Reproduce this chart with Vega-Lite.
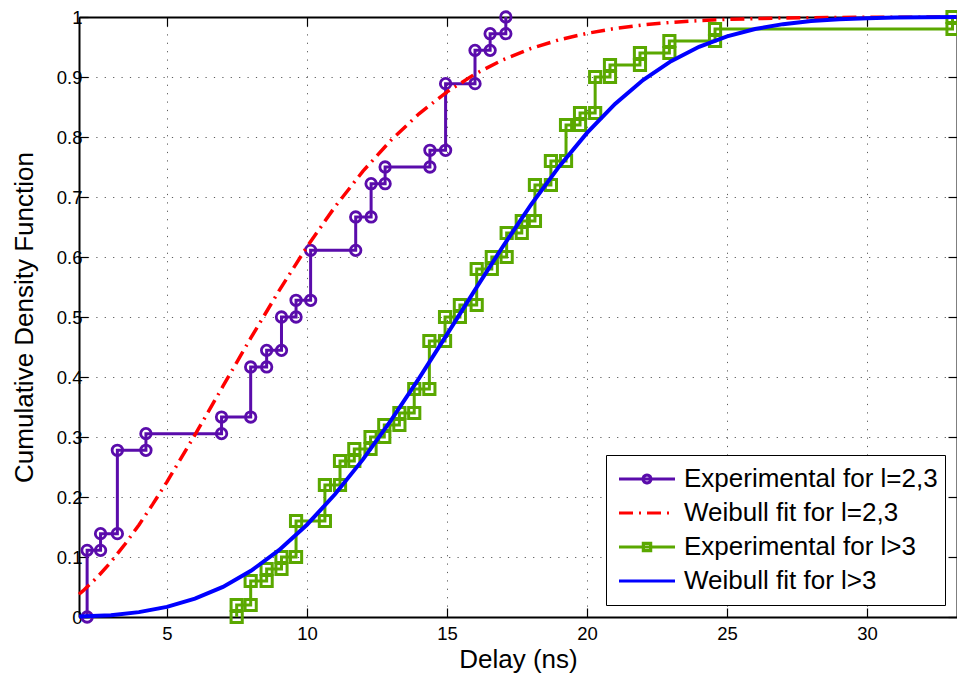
{
  "$schema": "https://vega.github.io/schema/vega-lite/v6.json",
  "width": 878,
  "height": 600,
  "autosize": {"type": "none"},
  "padding": {"left": 79, "top": 17, "right": 0, "bottom": 62},
  "background": "white",
  "config": {
    "font": "Liberation Sans",
    "view": {"stroke": null},
    "axis": {
      "domainColor": "black",
      "domainWidth": 2,
      "tickColor": "black",
      "tickWidth": 1.2,
      "tickSize": -9,
      "labelColor": "black",
      "labelFont": "Liberation Sans",
      "labelFontSize": 18.5,
      "titleFont": "Liberation Sans",
      "titleFontSize": 26,
      "titleFontWeight": "normal",
      "titleColor": "black",
      "gridColor": "#333333",
      "gridOpacity": 0.8,
      "gridWidth": 1,
      "gridDash": [1.2, 7.2]
    }
  },
  "datasets": {
    "curves": [
      {"series": "Experimental for l=2,3", "i": 0, "x": 2.15, "y": 0},
      {"series": "Experimental for l=2,3", "i": 1, "x": 2.15, "y": 0.1111},
      {"series": "Experimental for l=2,3", "i": 2, "x": 2.63, "y": 0.1111},
      {"series": "Experimental for l=2,3", "i": 3, "x": 2.63, "y": 0.1389},
      {"series": "Experimental for l=2,3", "i": 4, "x": 3.23, "y": 0.1389},
      {"series": "Experimental for l=2,3", "i": 5, "x": 3.23, "y": 0.2778},
      {"series": "Experimental for l=2,3", "i": 6, "x": 4.25, "y": 0.2778},
      {"series": "Experimental for l=2,3", "i": 7, "x": 4.25, "y": 0.3056},
      {"series": "Experimental for l=2,3", "i": 8, "x": 6.95, "y": 0.3056},
      {"series": "Experimental for l=2,3", "i": 9, "x": 6.95, "y": 0.3333},
      {"series": "Experimental for l=2,3", "i": 10, "x": 7.99, "y": 0.3333},
      {"series": "Experimental for l=2,3", "i": 11, "x": 7.99, "y": 0.4167},
      {"series": "Experimental for l=2,3", "i": 12, "x": 8.56, "y": 0.4167},
      {"series": "Experimental for l=2,3", "i": 13, "x": 8.56, "y": 0.4444},
      {"series": "Experimental for l=2,3", "i": 14, "x": 9.09, "y": 0.4444},
      {"series": "Experimental for l=2,3", "i": 15, "x": 9.09, "y": 0.5},
      {"series": "Experimental for l=2,3", "i": 16, "x": 9.61, "y": 0.5},
      {"series": "Experimental for l=2,3", "i": 17, "x": 9.61, "y": 0.5278},
      {"series": "Experimental for l=2,3", "i": 18, "x": 10.13, "y": 0.5278},
      {"series": "Experimental for l=2,3", "i": 19, "x": 10.13, "y": 0.6111},
      {"series": "Experimental for l=2,3", "i": 20, "x": 11.74, "y": 0.6111},
      {"series": "Experimental for l=2,3", "i": 21, "x": 11.74, "y": 0.6667},
      {"series": "Experimental for l=2,3", "i": 22, "x": 12.29, "y": 0.6667},
      {"series": "Experimental for l=2,3", "i": 23, "x": 12.29, "y": 0.7222},
      {"series": "Experimental for l=2,3", "i": 24, "x": 12.79, "y": 0.7222},
      {"series": "Experimental for l=2,3", "i": 25, "x": 12.79, "y": 0.75},
      {"series": "Experimental for l=2,3", "i": 26, "x": 14.39, "y": 0.75},
      {"series": "Experimental for l=2,3", "i": 27, "x": 14.39, "y": 0.7778},
      {"series": "Experimental for l=2,3", "i": 28, "x": 14.95, "y": 0.7778},
      {"series": "Experimental for l=2,3", "i": 29, "x": 14.95, "y": 0.8889},
      {"series": "Experimental for l=2,3", "i": 30, "x": 16.0, "y": 0.8889},
      {"series": "Experimental for l=2,3", "i": 31, "x": 16.0, "y": 0.9444},
      {"series": "Experimental for l=2,3", "i": 32, "x": 16.54, "y": 0.9444},
      {"series": "Experimental for l=2,3", "i": 33, "x": 16.54, "y": 0.9722},
      {"series": "Experimental for l=2,3", "i": 34, "x": 17.1, "y": 0.9722},
      {"series": "Experimental for l=2,3", "i": 35, "x": 17.1, "y": 1.0},

      {"series": "Weibull fit for l=2,3", "i": 0, "x": 1.86, "y": 0.0379},
      {"series": "Weibull fit for l=2,3", "i": 1, "x": 2.0, "y": 0.0434},
      {"series": "Weibull fit for l=2,3", "i": 2, "x": 2.5, "y": 0.0657},
      {"series": "Weibull fit for l=2,3", "i": 3, "x": 3.0, "y": 0.0917},
      {"series": "Weibull fit for l=2,3", "i": 4, "x": 3.5, "y": 0.1212},
      {"series": "Weibull fit for l=2,3", "i": 5, "x": 4.0, "y": 0.1535},
      {"series": "Weibull fit for l=2,3", "i": 6, "x": 4.5, "y": 0.1885},
      {"series": "Weibull fit for l=2,3", "i": 7, "x": 5.0, "y": 0.2253},
      {"series": "Weibull fit for l=2,3", "i": 8, "x": 6.0, "y": 0.3035},
      {"series": "Weibull fit for l=2,3", "i": 9, "x": 7.0, "y": 0.3846},
      {"series": "Weibull fit for l=2,3", "i": 10, "x": 8.0, "y": 0.4655},
      {"series": "Weibull fit for l=2,3", "i": 11, "x": 9.0, "y": 0.5436},
      {"series": "Weibull fit for l=2,3", "i": 12, "x": 10.0, "y": 0.6169},
      {"series": "Weibull fit for l=2,3", "i": 13, "x": 11.0, "y": 0.6837},
      {"series": "Weibull fit for l=2,3", "i": 14, "x": 12.0, "y": 0.7431},
      {"series": "Weibull fit for l=2,3", "i": 15, "x": 13.0, "y": 0.7946},
      {"series": "Weibull fit for l=2,3", "i": 16, "x": 14.0, "y": 0.8387},
      {"series": "Weibull fit for l=2,3", "i": 17, "x": 15.0, "y": 0.8753},
      {"series": "Weibull fit for l=2,3", "i": 18, "x": 16.0, "y": 0.905},
      {"series": "Weibull fit for l=2,3", "i": 19, "x": 17.0, "y": 0.9289},
      {"series": "Weibull fit for l=2,3", "i": 20, "x": 18.0, "y": 0.9476},
      {"series": "Weibull fit for l=2,3", "i": 21, "x": 19.0, "y": 0.962},
      {"series": "Weibull fit for l=2,3", "i": 22, "x": 20.0, "y": 0.9728},
      {"series": "Weibull fit for l=2,3", "i": 23, "x": 21.0, "y": 0.9809},
      {"series": "Weibull fit for l=2,3", "i": 24, "x": 22.0, "y": 0.9868},
      {"series": "Weibull fit for l=2,3", "i": 25, "x": 23.0, "y": 0.991},
      {"series": "Weibull fit for l=2,3", "i": 26, "x": 24.0, "y": 0.994},
      {"series": "Weibull fit for l=2,3", "i": 27, "x": 25.0, "y": 0.996},
      {"series": "Weibull fit for l=2,3", "i": 28, "x": 26.0, "y": 0.9974},
      {"series": "Weibull fit for l=2,3", "i": 29, "x": 27.0, "y": 0.9983},
      {"series": "Weibull fit for l=2,3", "i": 30, "x": 28.0, "y": 0.9989},
      {"series": "Weibull fit for l=2,3", "i": 31, "x": 30.0, "y": 0.9996},
      {"series": "Weibull fit for l=2,3", "i": 32, "x": 33.2, "y": 0.9999},

      {"series": "Experimental for l>3", "i": 0, "x": 7.49, "y": 0},
      {"series": "Experimental for l>3", "i": 1, "x": 7.49, "y": 0.02},
      {"series": "Experimental for l>3", "i": 2, "x": 7.99, "y": 0.02},
      {"series": "Experimental for l>3", "i": 3, "x": 7.99, "y": 0.06},
      {"series": "Experimental for l>3", "i": 4, "x": 8.56, "y": 0.06},
      {"series": "Experimental for l>3", "i": 5, "x": 8.56, "y": 0.08},
      {"series": "Experimental for l>3", "i": 6, "x": 9.09, "y": 0.08},
      {"series": "Experimental for l>3", "i": 7, "x": 9.09, "y": 0.1},
      {"series": "Experimental for l>3", "i": 8, "x": 9.61, "y": 0.1},
      {"series": "Experimental for l>3", "i": 9, "x": 9.61, "y": 0.16},
      {"series": "Experimental for l>3", "i": 10, "x": 10.64, "y": 0.16},
      {"series": "Experimental for l>3", "i": 11, "x": 10.64, "y": 0.22},
      {"series": "Experimental for l>3", "i": 12, "x": 11.18, "y": 0.22},
      {"series": "Experimental for l>3", "i": 13, "x": 11.18, "y": 0.26},
      {"series": "Experimental for l>3", "i": 14, "x": 11.69, "y": 0.26},
      {"series": "Experimental for l>3", "i": 15, "x": 11.69, "y": 0.28},
      {"series": "Experimental for l>3", "i": 16, "x": 12.27, "y": 0.28},
      {"series": "Experimental for l>3", "i": 17, "x": 12.27, "y": 0.3},
      {"series": "Experimental for l>3", "i": 18, "x": 12.76, "y": 0.3},
      {"series": "Experimental for l>3", "i": 19, "x": 12.76, "y": 0.32},
      {"series": "Experimental for l>3", "i": 20, "x": 13.3, "y": 0.32},
      {"series": "Experimental for l>3", "i": 21, "x": 13.3, "y": 0.34},
      {"series": "Experimental for l>3", "i": 22, "x": 13.83, "y": 0.34},
      {"series": "Experimental for l>3", "i": 23, "x": 13.83, "y": 0.38},
      {"series": "Experimental for l>3", "i": 24, "x": 14.37, "y": 0.38},
      {"series": "Experimental for l>3", "i": 25, "x": 14.37, "y": 0.46},
      {"series": "Experimental for l>3", "i": 26, "x": 14.93, "y": 0.46},
      {"series": "Experimental for l>3", "i": 27, "x": 14.93, "y": 0.5},
      {"series": "Experimental for l>3", "i": 28, "x": 15.46, "y": 0.5},
      {"series": "Experimental for l>3", "i": 29, "x": 15.46, "y": 0.52},
      {"series": "Experimental for l>3", "i": 30, "x": 16.06, "y": 0.52},
      {"series": "Experimental for l>3", "i": 31, "x": 16.06, "y": 0.58},
      {"series": "Experimental for l>3", "i": 32, "x": 16.6, "y": 0.58},
      {"series": "Experimental for l>3", "i": 33, "x": 16.6, "y": 0.6},
      {"series": "Experimental for l>3", "i": 34, "x": 17.13, "y": 0.6},
      {"series": "Experimental for l>3", "i": 35, "x": 17.13, "y": 0.64},
      {"series": "Experimental for l>3", "i": 36, "x": 17.67, "y": 0.64},
      {"series": "Experimental for l>3", "i": 37, "x": 17.67, "y": 0.66},
      {"series": "Experimental for l>3", "i": 38, "x": 18.14, "y": 0.66},
      {"series": "Experimental for l>3", "i": 39, "x": 18.14, "y": 0.72},
      {"series": "Experimental for l>3", "i": 40, "x": 18.71, "y": 0.72},
      {"series": "Experimental for l>3", "i": 41, "x": 18.71, "y": 0.76},
      {"series": "Experimental for l>3", "i": 42, "x": 19.25, "y": 0.76},
      {"series": "Experimental for l>3", "i": 43, "x": 19.25, "y": 0.82},
      {"series": "Experimental for l>3", "i": 44, "x": 19.75, "y": 0.82},
      {"series": "Experimental for l>3", "i": 45, "x": 19.75, "y": 0.84},
      {"series": "Experimental for l>3", "i": 46, "x": 20.29, "y": 0.84},
      {"series": "Experimental for l>3", "i": 47, "x": 20.29, "y": 0.9},
      {"series": "Experimental for l>3", "i": 48, "x": 20.82, "y": 0.9},
      {"series": "Experimental for l>3", "i": 49, "x": 20.82, "y": 0.92},
      {"series": "Experimental for l>3", "i": 50, "x": 21.89, "y": 0.92},
      {"series": "Experimental for l>3", "i": 51, "x": 21.89, "y": 0.94},
      {"series": "Experimental for l>3", "i": 52, "x": 22.94, "y": 0.94},
      {"series": "Experimental for l>3", "i": 53, "x": 22.94, "y": 0.96},
      {"series": "Experimental for l>3", "i": 54, "x": 24.57, "y": 0.96},
      {"series": "Experimental for l>3", "i": 55, "x": 24.57, "y": 0.98},
      {"series": "Experimental for l>3", "i": 56, "x": 33.05, "y": 0.98},
      {"series": "Experimental for l>3", "i": 57, "x": 33.05, "y": 1.0},

      {"series": "Weibull fit for l>3", "i": 0, "x": 1.86, "y": 0.0007},
      {"series": "Weibull fit for l>3", "i": 1, "x": 3.0, "y": 0.0031},
      {"series": "Weibull fit for l>3", "i": 2, "x": 4.0, "y": 0.0081},
      {"series": "Weibull fit for l>3", "i": 3, "x": 5.0, "y": 0.0168},
      {"series": "Weibull fit for l>3", "i": 4, "x": 6.0, "y": 0.0305},
      {"series": "Weibull fit for l>3", "i": 5, "x": 7.0, "y": 0.0502},
      {"series": "Weibull fit for l>3", "i": 6, "x": 8.0, "y": 0.0769},
      {"series": "Weibull fit for l>3", "i": 7, "x": 9.0, "y": 0.1113},
      {"series": "Weibull fit for l>3", "i": 8, "x": 10.0, "y": 0.1538},
      {"series": "Weibull fit for l>3", "i": 9, "x": 11.0, "y": 0.2045},
      {"series": "Weibull fit for l>3", "i": 10, "x": 12.0, "y": 0.2627},
      {"series": "Weibull fit for l>3", "i": 11, "x": 13.0, "y": 0.3276},
      {"series": "Weibull fit for l>3", "i": 12, "x": 14.0, "y": 0.3978},
      {"series": "Weibull fit for l>3", "i": 13, "x": 15.0, "y": 0.471},
      {"series": "Weibull fit for l>3", "i": 14, "x": 16.0, "y": 0.5451},
      {"series": "Weibull fit for l>3", "i": 15, "x": 17.0, "y": 0.6179},
      {"series": "Weibull fit for l>3", "i": 16, "x": 18.0, "y": 0.6871},
      {"series": "Weibull fit for l>3", "i": 17, "x": 19.0, "y": 0.7506},
      {"series": "Weibull fit for l>3", "i": 18, "x": 20.0, "y": 0.8069},
      {"series": "Weibull fit for l>3", "i": 19, "x": 21.0, "y": 0.8552},
      {"series": "Weibull fit for l>3", "i": 20, "x": 22.0, "y": 0.8949},
      {"series": "Weibull fit for l>3", "i": 21, "x": 23.0, "y": 0.9264},
      {"series": "Weibull fit for l>3", "i": 22, "x": 24.0, "y": 0.9504},
      {"series": "Weibull fit for l>3", "i": 23, "x": 25.0, "y": 0.9678},
      {"series": "Weibull fit for l>3", "i": 24, "x": 26.0, "y": 0.98},
      {"series": "Weibull fit for l>3", "i": 25, "x": 27.0, "y": 0.9881},
      {"series": "Weibull fit for l>3", "i": 26, "x": 28.0, "y": 0.9932},
      {"series": "Weibull fit for l>3", "i": 27, "x": 29.0, "y": 0.9963},
      {"series": "Weibull fit for l>3", "i": 28, "x": 30.0, "y": 0.9981},
      {"series": "Weibull fit for l>3", "i": 29, "x": 31.0, "y": 0.9991},
      {"series": "Weibull fit for l>3", "i": 30, "x": 32.0, "y": 0.9996},
      {"series": "Weibull fit for l>3", "i": 31, "x": 33.2, "y": 0.9999}
    ]
  },
  "data": {"name": "curves"},
  "layer": [
    {
      "transform": [{"filter": "datum.series === 'Experimental for l=2,3'"}],
      "mark": {
        "type": "line",
        "strokeWidth": 3,
        "point": {"shape": "circle", "filled": false, "size": 110, "strokeWidth": 2.8}
      },
      "encoding": {
        "x": {
          "field": "x", "type": "quantitative",
          "scale": {"domain": [1.86, 33.21], "nice": false, "zero": false},
          "axis": {
            "orient": "bottom",
            "values": [5, 10, 15, 20, 25, 30],
            "grid": true,
            "labelPadding": 16,
            "title": "Delay (ns)",
            "titlePadding": 4
          }
        },
        "y": {
          "field": "y", "type": "quantitative",
          "scale": {"domain": [0, 1], "nice": false},
          "axis": {
            "orient": "left",
            "values": [0, 0.1, 0.2, 0.3, 0.4, 0.5, 0.6, 0.7, 0.8, 0.9, 1],
            "format": "~g",
            "grid": true,
            "labelPadding": 6,
            "title": "Cumulative Density Function",
            "titlePadding": 19
          }
        },
        "order": {"field": "i", "type": "quantitative"},
        "color": {
          "field": "series", "type": "nominal",
          "scale": {
            "domain": ["Experimental for l=2,3", "Weibull fit for l=2,3", "Experimental for l>3", "Weibull fit for l>3"],
            "range": ["#5a0cab", "#ff0000", "#5aa800", "#0000ff"]
          },
          "legend": {
            "title": null,
            "orient": "bottom-right",
            "offset": 12,
            "padding": 7,
            "rowPadding": 0,
            "clipHeight": 34,
            "fillColor": "white",
            "strokeColor": "black",
            "labelFont": "Liberation Sans",
            "labelFontSize": 26,
            "labelColor": "black",
            "labelOffset": 7,
            "labelLimit": 400,
            "symbolOffset": 4,
            "symbolSize": 3136,
            "symbolStrokeWidth": 3,
            "symbolOpacity": 1,
            "encode": {
              "symbols": {
                "update": {
                  "shape": {"signal": "datum.value === 'Experimental for l=2,3' ? 'M-1,0H1M0.14,0A0.14,0.14,0,1,1,-0.14,0A0.14,0.14,0,1,1,0.14,0' : datum.value === 'Experimental for l>3' ? 'M-1,0H1M-0.13,-0.13H0.13V0.13H-0.13Z' : 'M-1,0H1'"},
                  "strokeDash": {"signal": "datum.value === 'Weibull fit for l=2,3' ? [14, 6, 2, 6] : [1, 0]"},
                  "fill": {"value": "transparent"},
                  "strokeWidth": {"value": 3.2}
                }
              }
            }
          }
        }
      }
    },
    {
      "transform": [{"filter": "datum.series === 'Weibull fit for l=2,3'"}],
      "mark": {"type": "line", "strokeWidth": 3.5, "strokeDash": [14, 6, 2, 6]},
      "encoding": {
        "x": {
          "field": "x", "type": "quantitative",
          "scale": {"domain": [1.86, 33.21], "nice": false, "zero": false},
          "axis": {"orient": "top", "values": [5, 10, 15, 20, 25, 30], "labels": false, "grid": false, "title": null}
        },
        "y": {
          "field": "y", "type": "quantitative",
          "scale": {"domain": [0, 1], "nice": false},
          "axis": {"orient": "right", "values": [0, 0.1, 0.2, 0.3, 0.4, 0.5, 0.6, 0.7, 0.8, 0.9, 1], "labels": false, "grid": false, "title": null}
        },
        "order": {"field": "i", "type": "quantitative"},
        "color": {"field": "series", "type": "nominal"}
      }
    },
    {
      "transform": [{"filter": "datum.series === 'Experimental for l>3'"}],
      "mark": {
        "type": "line",
        "strokeWidth": 3,
        "point": {"shape": "square", "filled": false, "size": 125, "strokeWidth": 3}
      },
      "encoding": {
        "x": {"field": "x", "type": "quantitative", "scale": {"domain": [1.86, 33.21], "nice": false, "zero": false}, "axis": null},
        "y": {"field": "y", "type": "quantitative", "scale": {"domain": [0, 1], "nice": false}, "axis": null},
        "order": {"field": "i", "type": "quantitative"},
        "color": {"field": "series", "type": "nominal"}
      }
    },
    {
      "transform": [{"filter": "datum.series === 'Weibull fit for l>3'"}],
      "mark": {"type": "line", "strokeWidth": 4},
      "encoding": {
        "x": {"field": "x", "type": "quantitative", "scale": {"domain": [1.86, 33.21], "nice": false, "zero": false}, "axis": null},
        "y": {"field": "y", "type": "quantitative", "scale": {"domain": [0, 1], "nice": false}, "axis": null},
        "order": {"field": "i", "type": "quantitative"},
        "color": {"field": "series", "type": "nominal"}
      }
    }
  ],
  "resolve": {"axis": {"x": "independent", "y": "independent"}}
}
